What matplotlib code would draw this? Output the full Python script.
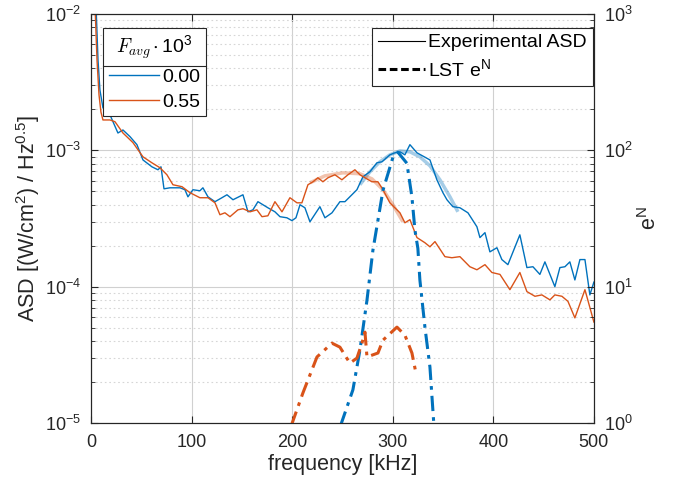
import numpy as np
import matplotlib
matplotlib.use('Agg')
import matplotlib.pyplot as plt
from matplotlib.lines import Line2D
from matplotlib.font_manager import FontProperties

plt.rcParams['font.family'] = ['Liberation Sans', 'DejaVu Sans']
plt.rcParams['mathtext.fontset'] = 'custom'
plt.rcParams['mathtext.rm'] = 'Liberation Sans'
plt.rcParams['mathtext.it'] = 'Liberation Sans:italic'
plt.rcParams['mathtext.bf'] = 'Liberation Sans:bold'
plt.rcParams['mathtext.default'] = 'regular'

# --- datos ---
# espectro medido, F_avg = 0.00
f_a = [5.0, 7.0, 8.9, 11.9, 18.9, 26.8, 31.8, 38.8, 45.7, 51.7, 60.6, 66.6, 69.6, 72.6,
       78.5, 88.5, 93.4, 96.4, 101.4, 108.3, 111.3, 116.3, 123.3, 130.2, 135.2, 141.2,
       151.1, 156.1, 161.0, 166.0, 175.9, 182.9, 187.9, 194.8, 199.8, 203.8, 207.8,
       212.7, 217.7, 227.6, 232.6, 239.6, 247.5, 252.5, 259.4, 264.4, 270.4, 277.3,
       284.3, 289.3, 297.2, 302.2, 307.2, 312.1, 317.1, 324.1, 337.0, 343.9, 349.9,
       353.9, 359.8, 366.8, 374.8, 383.7, 386.7, 391.7, 396.6, 403.6, 408.5, 414.5,
       426.4, 433.4, 439.4, 446.3, 451.3, 461.2, 466.2, 471.2, 476.1, 481.1, 486.1,
       491.1, 496.0, 500.0]
asd_a = [1.16e-2, 4.6e-3, 2.77e-3, 2.05e-3, 1.82e-3, 1.34e-3, 1.41e-3, 1.26e-3, 1.10e-3,
         8.5e-4, 7.57e-4, 7.2e-4, 7.57e-4, 5.22e-4, 5.31e-4, 5.31e-4, 5.14e-4, 4.56e-4,
         5.14e-4, 5.05e-4, 5.31e-4, 4.56e-4, 4.20e-4, 4.49e-4, 4.72e-4, 4.34e-4, 4.72e-4,
         3.54e-4, 3.66e-4, 4.20e-4, 3.79e-4, 3.54e-4, 3.26e-4, 3.20e-4, 3.05e-4, 3.20e-4,
         3.99e-4, 3.79e-4, 2.99e-4, 3.86e-4, 3.20e-4, 3.48e-4, 4.20e-4, 4.20e-4, 4.72e-4,
         5.14e-4, 6.40e-4, 6.96e-4, 8.10e-4, 8.24e-4, 9.27e-4, 9.59e-4, 9.75e-4, 9.27e-4,
         1.10e-3, 9.59e-4, 8.5e-4, 6.08e-4, 4.89e-4, 4.34e-4, 3.86e-4, 3.79e-4, 3.48e-4,
         2.75e-4, 2.29e-4, 2.49e-4, 1.80e-4, 1.93e-4, 1.58e-4, 1.45e-4, 2.40e-4, 1.38e-4,
         1.40e-4, 1.23e-4, 1.52e-4, 1.0e-4, 1.38e-4, 1.40e-4, 1.52e-4, 1.12e-4, 1.58e-4,
         1.58e-4, 8.7e-5, 1.08e-4]

# espectro medido, F_avg = 0.55
f_b = [4.0, 6.0, 8.0, 9.9, 11.9, 18.9, 23.9, 31.8, 41.7, 51.7, 60.6, 68.6, 75.5, 81.5,
       90.5, 98.4, 108.3, 116.3, 123.3, 128.2, 133.2, 138.2, 146.1, 151.1, 158.1, 165.0,
       170.0, 175.9, 182.9, 189.9, 197.8, 204.8, 209.7, 215.7, 220.7, 225.6, 230.6,
       235.6, 242.5, 249.5, 255.5, 262.4, 267.4, 272.4, 279.3, 285.3, 290.3, 297.2,
       304.2, 307.2, 312.1, 317.1, 324.1, 332.0, 337.0, 342.0, 351.9, 358.8, 366.8,
       376.7, 383.7, 391.7, 398.6, 406.6, 416.5, 426.4, 433.4, 441.4, 448.3, 456.3,
       461.2, 468.2, 474.2, 481.1, 491.1, 500.0]
asd_b = [1.16e-2, 4.6e-3, 2.55e-3, 1.91e-3, 1.67e-3, 1.67e-3, 1.62e-3, 1.34e-3, 1.14e-3,
         8.96e-4, 8.10e-4, 7.45e-4, 6.62e-4, 5.59e-4, 5.41e-4, 4.89e-4, 4.49e-4, 4.49e-4,
         4.12e-4, 3.37e-4, 3.48e-4, 3.26e-4, 3.66e-4, 3.73e-4, 3.54e-4, 3.66e-4, 3.26e-4,
         3.31e-4, 4.20e-4, 3.54e-4, 4.49e-4, 4.12e-4, 4.12e-4, 5.59e-4, 5.88e-4, 6.29e-4,
         5.88e-4, 6.29e-4, 6.62e-4, 6.08e-4, 6.62e-4, 7.20e-4, 6.62e-4, 6.29e-4, 5.88e-4,
         5.88e-4, 5.14e-4, 4.12e-4, 3.66e-4, 3.48e-4, 2.94e-4, 3.10e-4, 2.29e-4, 2.10e-4,
         1.96e-4, 2.14e-4, 1.66e-4, 1.63e-4, 1.66e-4, 1.40e-4, 1.33e-4, 1.45e-4, 1.27e-4,
         1.23e-4, 9.5e-5, 1.27e-4, 9.2e-5, 8.5e-5, 8.7e-5, 8.0e-5, 8.7e-5, 8.5e-5, 7.8e-5,
         5.9e-5, 9.5e-5, 5.5e-5]

# ajuste suavizado alrededor del pico
f_a_fit = [267.4, 277.3, 287.3, 297.2, 307.2, 317.1, 327.0, 337.0, 346.9, 356.9, 364.8]
asd_a_fit = [5.59e-4, 6.96e-4, 8.24e-4, 9.27e-4, 9.9e-4, 9.75e-4, 8.96e-4, 7.7e-4,
             6.08e-4, 4.56e-4, 3.54e-4]
f_b_fit = [217.7, 232.6, 250.5, 267.4, 279.3, 290.3, 300.2, 310.1]
asd_b_fit = [5.78e-4, 6.5e-4, 6.84e-4, 6.73e-4, 6.18e-4, 5.14e-4, 3.99e-4, 2.99e-4]

# LST, factor de amplificacion e^N
f_lst_a = [248.0, 260.4, 267.4, 274.4, 280.3, 290.3, 300.2, 305.2, 314.1, 319.1, 322.1,
           325.0, 327.0, 332.0, 337.0, 341.0]
eN_a = [0.95, 1.75, 3.43, 7.96, 18.5, 50.9, 88.9, 96.7, 80.3, 45.3, 25.9, 19.1, 11.2,
        5.05, 2.57, 0.95]
f_lst_b = [199.0, 210.7, 224.7, 239.6, 247.5, 257.4, 264.4, 269.4, 272.4, 274.4, 285.3,
           290.3, 304.2, 312.1, 319.1, 323.1]
eN_b = [0.95, 1.66, 3.05, 3.85, 3.6, 2.75, 2.99, 3.85, 4.64, 3.05, 3.26, 4.05, 5.05,
        4.41, 3.26, 2.32]

azul = '#0072BD'
naranja = '#D95319'
gris = '#262626'

fig = plt.figure(figsize=(6.85, 4.96), dpi=100)
ax = fig.add_axes([0.1328, 0.1472, 0.7342, 0.8246])
ax2 = ax.twinx()

ax.plot(f_a_fit, asd_a_fit, color=azul, lw=2.5, alpha=0.35, solid_capstyle='butt')
ax.plot(f_b_fit, asd_b_fit, color=naranja, lw=2.5, alpha=0.35, solid_capstyle='butt')
ax.plot(f_a, asd_a, color=azul, lw=1.0)
ax.plot(f_b, asd_b, color=naranja, lw=1.0)

ax2.plot(f_lst_a, eN_a, color=azul, lw=2.2, ls=(0, (5, 2, 1.2, 2)))
ax2.plot(f_lst_b, eN_b, color=naranja, lw=2.2, ls=(0, (5, 2, 1.2, 2)))

ax.set_yscale('log')
ax2.set_yscale('log')
ax.set_xlim(0, 500)
ax.set_ylim(1e-5, 1e-2)
ax2.set_ylim(1, 1e3)
ax.set_xticks([0, 100, 200, 300, 400, 500])

ax.grid(True, which='major', color='#d0d0d0', lw=0.8)
ax.grid(True, which='minor', axis='y', color='#d6d6d6', lw=0.8, ls=(0, (1.5, 2.5)))
ax.set_axisbelow(True)

for a in (ax, ax2):
    a.tick_params(which='both', direction='in', labelsize=13, colors=gris,
                  labelcolor=gris)
    a.tick_params(which='major', length=5)
    a.tick_params(which='minor', length=3)
    for s in a.spines.values():
        s.set_color(gris)
ax.tick_params(top=True, which='both')
ax.tick_params(axis='x', pad=8)
ax.tick_params(axis='y', pad=7)
ax2.tick_params(axis='y', pad=7)

ax.set_xlabel('frequency [kHz]', fontsize=15.5, color=gris, labelpad=2)
ax.set_ylabel('ASD [(W/cm$^2$) / Hz$^{0.5}$]', fontsize=15.5, color=gris, labelpad=2)
ax2.set_ylabel('e$^N$', fontsize=15.5, color=gris, labelpad=4)

# leyenda de casos
h1 = [Line2D([], [], color=azul, lw=1.0), Line2D([], [], color=naranja, lw=1.0)]
leg1 = ax2.legend(h1, ['0.00', '0.55'], loc='upper left', bbox_to_anchor=(0.024, 0.966),
                  fontsize=14, handlelength=2.6, handletextpad=0.15, borderpad=0.3,
                  labelspacing=0.35, fancybox=False, framealpha=1, edgecolor=gris,
                  borderaxespad=0)
leg1.set_title('$\\mathit{F}_{\\mathit{avg}} \\cdot 10^3$',
               prop=FontProperties(size=14, math_fontfamily='cm'))
leg1.get_frame().set_linewidth(0.8)
ax2.add_artist(leg1)

# leyenda de tipos de curva
h2 = [Line2D([], [], color='k', lw=0.8), Line2D([], [], color='k', lw=2.2, ls=(0, (2.5, 1.2)))]
leg2 = ax2.legend(h2, ['Experimental ASD', 'LST e$^N$'], loc='upper right',
                  bbox_to_anchor=(0.998, 0.966), fontsize=14, handlelength=2.4,
                  handletextpad=0.2, borderpad=0.3, labelspacing=0.35,
                  fancybox=False, framealpha=1, edgecolor=gris, borderaxespad=0)
leg2.get_frame().set_linewidth(0.8)

# linea bajo el titulo de la leyenda (estilo MATLAB)
fig.canvas.draw()
r = fig.canvas.get_renderer()
bb = leg1.get_window_extent(r)
tb = leg1.get_title().get_window_extent(r)
ysep = tb.y0 - 4
inv = fig.transFigure.inverted()
x0, y0 = inv.transform((bb.x0, ysep))
x1, _ = inv.transform((bb.x1, ysep))
fig.add_artist(Line2D([x0, x1], [y0, y0], color=gris, lw=0.8, zorder=10))

plt.savefig('out.png', dpi=100)
